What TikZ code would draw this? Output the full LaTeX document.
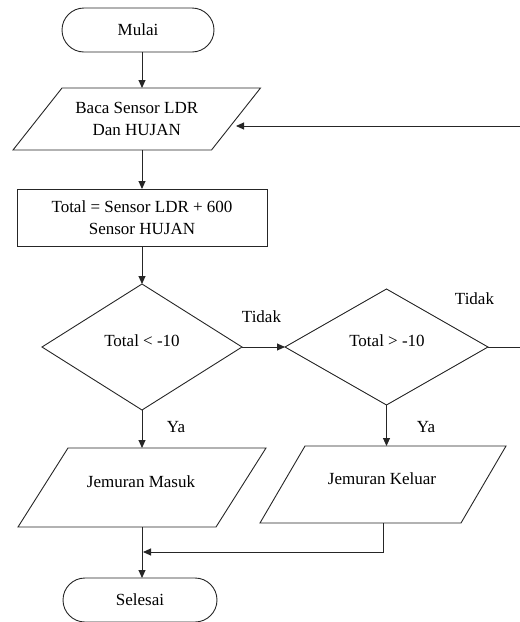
\documentclass[tikz,border=0pt]{standalone}
\usepackage{fontspec}
\setmainfont{Liberation Serif}
\usetikzlibrary{shapes.geometric,arrows.meta,calc}
\newcommand\drawpara[2]{\draw[shp] ($(#1.north west)+(#2,0)$) -- ($(#1.north east)+(#2,0)$) -- ($(#1.south east)-(#2,0)$) -- ($(#1.south west)-(#2,0)$) -- cycle;}
\begin{document}
\begin{tikzpicture}[x=1pt,y=-1pt,
  every node/.style={font=\fontsize{17}{22}\selectfont, inner sep=0pt, outer sep=0pt, align=center},
  shp/.style={draw=black!85, line width=0.9pt},
  term/.style={shp, rounded corners=22pt, minimum width=#1, minimum height=44pt},
  proc/.style={shp, minimum width=250pt, minimum height=57pt},
  dec/.style={shp, diamond, minimum width=#1},
  iobox/.style={minimum width=#1},
  arr/.style={line width=0.9pt, draw=black!85, -{Triangle[length=8pt,width=7pt]}},
  ln/.style={line width=0.9pt, draw=black!85}]
\clip (0,0) rectangle (520,622);
% nodes
\node[term=152pt] (mulai) at (138,30) {Mulai};
\node[iobox=198.5pt, minimum height=62pt] (baca) at (136.75,119) {Baca Sensor LDR\\Dan HUJAN};
\drawpara{baca}{24.5}
\node[proc] (total) at (142,217.5) {Total = Sensor LDR + 600\\Sensor HUJAN};
\node[dec=200pt, minimum height=126pt] (d1) at (142,347) {};
\node (d1t) at (142,341) {Total < -10};
\node[dec=203pt, minimum height=116pt] (d2) at (386.5,347) {};
\node (d2t) at (387,341) {Total > -10};
\node[iobox=198pt, minimum height=79pt] (masuk) at (142,487.5) {};
\node (masukt) at (141,482) {Jemuran Masuk};
\drawpara{masuk}{25}
\node[iobox=201pt, minimum height=77pt] (keluar) at (383,484.5) {};
\node (keluart) at (382,479) {Jemuran Keluar};
\drawpara{keluar}{22.5}
\node[term=154pt] (selesai) at (140,600) {Selesai};
% labels
\node (tidak1) at (261.5,317) {Tidak};
\node (tidak2) at (474.5,299) {Tidak};
\node (ya1) at (176,427) {Ya};
\node (ya2) at (426,427) {Ya};
% free ends
\coordinate (fbR) at (525,126);
\coordinate (d2R) at (525,347);
\coordinate (join) at (142,552);
% connectors
\draw[arr] (mulai.south -| total.north) -- (baca.north -| total.north);
\draw[arr] (baca.south -| total.north) -- (total.north);
\draw[arr] (total) -- (d1);
\draw[arr] (d1.east) -- (d1.east -| d2.west);
\draw[ln] (d2.east) -- (d2R);
\draw[arr] (fbR) -- (fbR -| baca.east);
\draw[arr] (d1.south) -- (masuk.north);
\draw[arr] (d2.south) -- (d2.south |- keluar.north);
\draw[arr] (masuk.south) -- (masuk.south |- selesai.north);
\draw[arr] (keluar.south) -- (keluar.south |- join) -- ($(join)+(1,0)$);
\end{tikzpicture}
\end{document}
